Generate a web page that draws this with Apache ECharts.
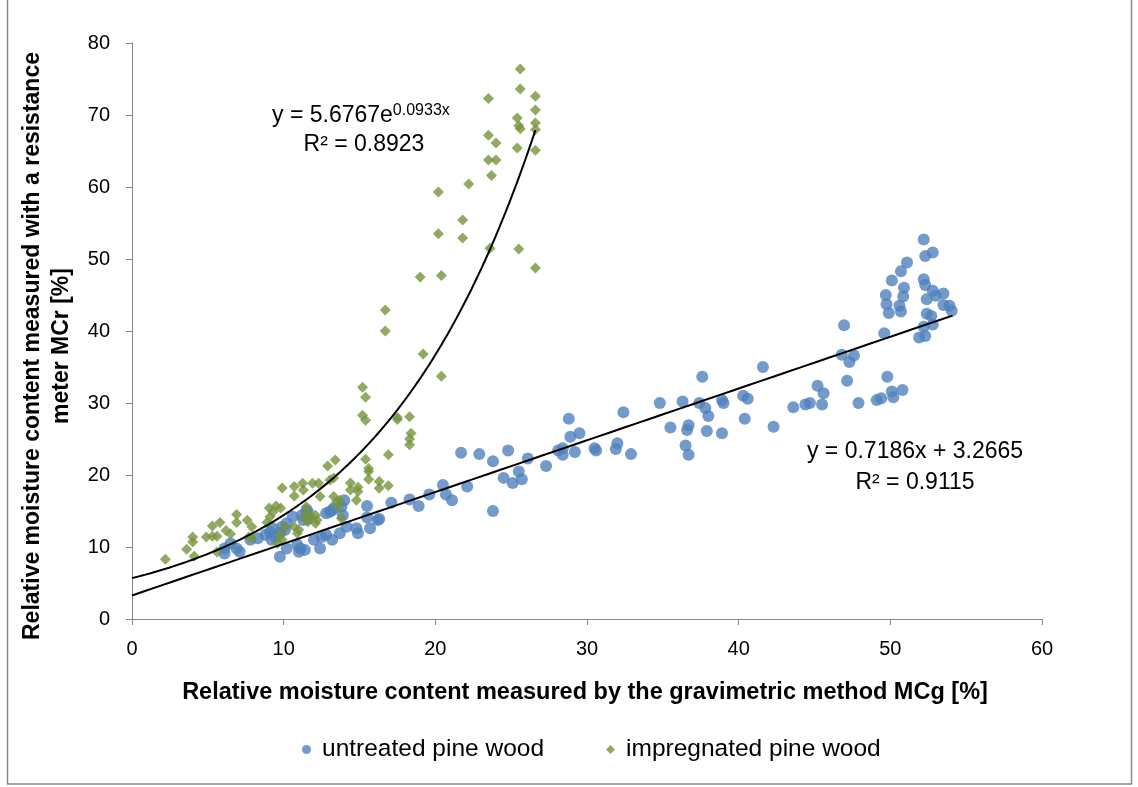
<!DOCTYPE html>
<html>
<head>
<meta charset="utf-8">
<script src="https://cdn.jsdelivr.net/npm/echarts@6/dist/echarts.min.js"></script>
<style>
html,body{margin:0;padding:0;background:#fff;}
#chart{width:1138px;height:787px;}
</style>
</head>
<body>
<div id="chart"></div>
<script>
// ---- data ----
const untreatedX = [6.1,6.1,6.5,6.9,7.1,7.8,8.3,8.8,9.1,9.3,9.2,9.5,9.75,9.75,10.2,9.9,10.2,10.6,10.1,10.9,11.1,11.4,11.0,11.5,11.3,11.6,12.0,12.4,12.5,12.8,13.2,13.05,13.3,14.0,13.8,13.7,14.15,14.8,14.9,15.5,15.5,15.7,16.2,17.1,18.3,18.9,19.6,20.5,20.7,21.1,21.7,22.1,22.9,23.8,23.8,24.8,24.5,25.1,25.5,25.7,26.1,27.3,28.1,28.4,28.4,28.8,28.9,29.5,29.2,30.5,30.6,31.9,32.0,32.4,32.9,34.8,35.5,36.3,36.5,36.7,36.6,36.7,37.4,37.6,37.8,38.0,37.9,38.9,39.0,38.9,40.3,40.6,40.4,41.6,42.3,43.6,44.4,44.7,45.2,45.6,45.5,46.95,46.8,47.6,47.3,47.15,47.9,49.1,49.4,49.8,50.1,50.2,50.8,49.6,49.7,49.75,49.9,50.1,50.7,51.1,50.6,50.7,50.85,50.9,52.2,52.3,52.8,52.2,52.3,52.4,52.8,53.0,53.5,53.5,53.9,54.05,52.4,52.7,52.2,52.8,51.9,52.3,16.3,11.2,11.6,12.8,13.2,13.9];
const untreatedY = [9.8,9.1,10.5,9.8,9.35,11.0,11.2,11.7,12.1,12.6,11.0,11.4,11.9,8.65,9.8,12.8,13.3,14.2,12.4,10.3,9.8,9.6,9.35,15.1,13.75,14.0,11.0,9.8,11.4,11.7,11.0,14.9,15.4,16.5,15.6,11.9,12.8,12.6,11.9,15.7,14.1,12.6,13.75,16.15,16.6,15.7,17.3,18.6,17.3,16.5,23.1,18.4,22.9,21.9,15.0,23.4,19.6,18.9,20.5,19.4,22.3,21.25,23.4,23.7,22.8,27.8,25.3,25.8,23.2,23.7,23.4,23.6,24.4,28.7,22.9,30.0,26.6,30.2,24.1,22.8,26.25,26.9,30.0,33.65,29.3,28.2,26.1,30.4,30.0,25.8,31.0,30.6,27.8,35.0,26.7,29.4,29.8,30.0,32.4,31.35,29.8,40.8,36.7,36.6,35.7,33.1,30.0,30.4,30.65,33.65,31.6,30.8,31.8,39.7,45.0,43.7,42.5,47.0,48.3,49.5,43.5,42.7,44.8,46.0,52.7,50.4,50.9,47.2,46.4,44.4,45.6,44.9,45.2,43.6,43.5,42.8,42.4,42.1,40.6,40.9,39.1,39.3,13.9,14.4,14.9,14.7,15.1,14.4];

const impregnatedX = [2.2,3.6,4.0,4.0,4.1,4.9,5.3,5.3,5.6,5.8,5.6,6.2,6.5,6.9,6.9,7.6,7.9,7.7,7.9,8.9,9.05,9.3,9.1,9.5,9.8,9.9,9.75,9.9,9.6,10.1,10.7,10.7,11.25,11.3,10.7,11.0,10.9,11.5,11.4,11.6,11.9,12.1,12.2,12.3,12.4,12.9,13.4,13.05,13.3,13.3,13.5,13.7,13.6,13.8,14.4,14.4,14.9,14.9,14.8,15.2,15.4,15.2,15.4,15.4,15.6,15.6,15.6,16.3,16.3,16.9,16.9,17.5,17.5,18.3,18.4,18.3,18.3,16.7,16.7,19.2,20.4,19.0,20.4,20.2,20.2,21.8,21.8,22.2,23.5,23.5,23.5,24.0,24.0,23.7,23.6,25.6,25.6,25.4,25.5,25.6,25.4,25.5,26.6,26.6,26.6,26.6,26.6,26.6,11.5,12.1,11.8];
const impregnatedY = [8.3,9.7,11.4,10.7,8.7,11.4,11.5,12.9,11.5,13.4,9.3,12.3,11.8,14.5,13.4,13.7,12.8,11.4,11.3,13.4,15.4,14.9,14.2,15.7,15.4,18.2,11.7,11.0,10.5,12.8,18.4,17.1,18.85,17.9,12.8,12.4,11.9,14.7,14.0,13.5,18.85,14.4,13.75,18.85,17.0,21.25,22.1,19.3,19.6,17.0,16.3,16.5,15.6,14.0,18.9,17.9,18.3,17.7,16.5,32.2,30.8,28.3,27.6,22.2,20.9,20.5,19.4,19.1,18.15,22.8,18.5,28.0,27.7,28.1,25.8,25.0,24.2,42.9,40.0,36.8,33.7,47.5,47.7,53.5,59.3,55.4,52.9,60.4,72.3,67.2,63.75,66.1,63.75,61.6,51.5,76.4,73.6,69.6,68.5,68.1,65.4,51.4,72.6,70.7,68.9,68.0,65.1,48.75,15.6,13.3,14.2];

const seriesNames = ['untreated pine wood', 'impregnated pine wood'];
const xTicks = [0, 10, 20, 30, 40, 50, 60];
const yTicks = [0, 10, 20, 30, 40, 50, 60, 70, 80];

// trendline equations as printed on the chart
const linSlope = 0.7186, linIntercept = 3.2665, linXmax = 54.1;
const expA = 5.6767, expB = 0.0933, expXmax = 26.6;

const xTitle = 'Relative moisture content measured by the gravimetric method MCg [%]';
const yTitle = 'Relative moisture content measured with a resistance\nmeter MCr [%]';

// ---- build ----
const pts = (xs, ys) => xs.map((x, i) => [x, ys[i]]);
const linLine = [];
for (let i = 0; i <= 60; i++) { const x = linXmax * i / 60; linLine.push([x, linSlope * x + linIntercept]); }
const expLine = [];
for (let i = 0; i <= 120; i++) { const x = expXmax * i / 120; expLine.push([x, expA * Math.exp(expB * x)]); }

const FONT = '"Liberation Sans", Arial, sans-serif';
const chart = echarts.init(document.getElementById('chart'), null, {renderer: 'canvas'});
chart.setOption({
  animation: false,
  backgroundColor: '#ffffff',
  grid: {left: 132, right: 96, top: 43, bottom: 168, containLabel: false},
  xAxis: {
    type: 'value', min: xTicks[0], max: xTicks[xTicks.length - 1], interval: 10,
    axisLine: {show: true, onZero: false, lineStyle: {color: '#868686', width: 1}},
    axisTick: {show: true, length: 6, lineStyle: {color: '#868686'}},
    axisLabel: {fontFamily: FONT, fontSize: 20, color: '#000', margin: 20},
    splitLine: {show: false}
  },
  yAxis: {
    type: 'value', min: yTicks[0], max: yTicks[yTicks.length - 1], interval: 10,
    axisLine: {show: true, onZero: false, lineStyle: {color: '#868686', width: 1}},
    axisTick: {show: true, length: 6, lineStyle: {color: '#868686'}},
    axisLabel: {fontFamily: FONT, fontSize: 20, color: '#000', margin: 22},
    splitLine: {show: false}
  },
  legend: {
    data: [
      {name: seriesNames[0], icon: 'circle'},
      {name: seriesNames[1], icon: 'diamond'}
    ],
    bottom: 20, left: 297, itemWidth: 9, itemHeight: 9, itemGap: 62,
    textStyle: {fontFamily: FONT, fontSize: 24.5, color: '#000', padding: [0, 0, 0, 6]}
  },
  series: [
    {name: seriesNames[0], type: 'scatter', data: pts(untreatedX, untreatedY), symbol: 'circle', symbolSize: 12,
     itemStyle: {color: '#4F81BD'}, z: 3},
    {name: seriesNames[1], type: 'scatter', data: pts(impregnatedX, impregnatedY), symbol: 'diamond', symbolSize: 11,
     itemStyle: {color: '#77933C'}, z: 4},
    {name: 'lin', type: 'line', data: linLine, showSymbol: false, symbol: 'none', smooth: false,
     lineStyle: {color: '#000', width: 2}, z: 5, silent: true},
    {name: 'exp', type: 'line', data: expLine, showSymbol: false, symbol: 'none', smooth: false,
     lineStyle: {color: '#000', width: 2}, z: 5, silent: true}
  ],
  graphic: [
    {type: 'rect', shape: {x: 7.5, y: -5, width: 1124, height: 789}, style: {fill: 'none', stroke: '#898989', lineWidth: 1.5}, silent: true},
    {type: 'text', x: 585, y: 693, style: {text: xTitle, font: 'bold 23.5px ' + FONT, fill: '#000', textAlign: 'center', textVerticalAlign: 'middle'}},
    {type: 'text', x: 47, y: 346, rotation: Math.PI / 2,
     style: {text: yTitle, font: 'bold 23px ' + FONT, fill: '#000', textAlign: 'center', textVerticalAlign: 'middle', lineHeight: 29}},
    {type: 'text', x: 272, y: 116,
     style: {text: '{m|y = 5.6767e}{s|0.0933x}', textVerticalAlign: 'middle', fill: '#000',
       rich: {m: {fontFamily: FONT, fontSize: 23, fill: '#000'}, s: {fontFamily: FONT, fontSize: 16, fill: '#000', verticalAlign: 'top', padding: [0,0,10,0]}}}},
    {type: 'text', x: 364, y: 145, style: {text: 'R² = 0.8923', font: '23px ' + FONT, fill: '#000', textAlign: 'center', textVerticalAlign: 'middle'}},
    {type: 'text', x: 915, y: 452, style: {text: 'y = 0.7186x + 3.2665', font: '23px ' + FONT, fill: '#000', textAlign: 'center', textVerticalAlign: 'middle'}},
    {type: 'text', x: 915, y: 483, style: {text: 'R² = 0.9115', font: '23px ' + FONT, fill: '#000', textAlign: 'center', textVerticalAlign: 'middle'}}
  ]
});
</script>
</body>
</html>
